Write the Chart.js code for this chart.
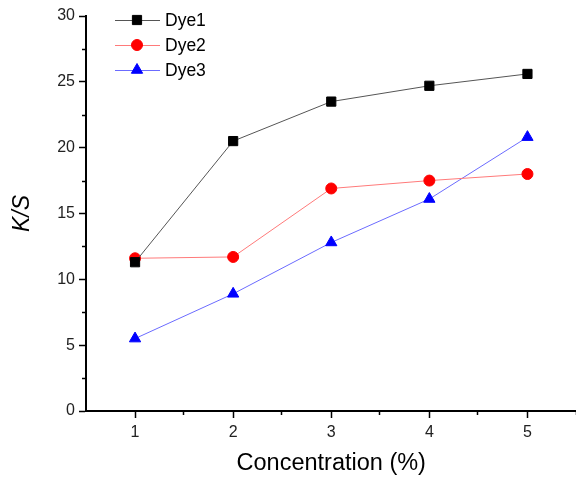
<!DOCTYPE html>
<html>
<head>
<meta charset="utf-8">
<script src="https://cdn.jsdelivr.net/npm/chart.js@4/dist/chart.umd.min.js"></script>
<style>
  html, body { margin: 0; padding: 0; background: #fff; overflow: hidden; }
  #wrap { width: 576px; height: 478px; overflow: hidden; }
</style>
</head>
<body>
<div id="wrap"><canvas id="myChart" width="584" height="478"></canvas></div>
<script>
// datos
var concentration = [1, 2, 3, 4, 5];
var dye1 = [11.3, 20.5, 23.5, 24.7, 25.6];
var dye2 = [11.6, 11.7, 16.9, 17.5, 18.0];
var dye3 = [5.5, 8.9, 12.8, 16.1, 20.8];
var xTicks = [1, 2, 3, 4, 5];
var yTicks = [0, 5, 10, 15, 20, 25, 30];
var xMinor = [1.5, 2.5, 3.5, 4.5, 5.5];
var yMinor = [2.5, 7.5, 12.5, 17.5, 22.5, 27.5];

var font = '"Liberation Sans", Arial, sans-serif';

function toPoints(ys) {
    return concentration.map(function (x, i) { return { x: x, y: ys[i] }; });
}

// ticks menores y leyenda estilo Origin
var extras = {
    id: 'extras',
    afterDraw: function (chart) {
        var ctx = chart.ctx;
        var xs = chart.scales.x, ys = chart.scales.y;
        var area = chart.chartArea;
        ctx.save();
        ctx.strokeStyle = '#000';
        ctx.lineWidth = 1.5;
        xMinor.forEach(function (v) {
            var px = Math.round(xs.getPixelForValue(v)) - 0.5;
            ctx.beginPath(); ctx.moveTo(px, area.bottom); ctx.lineTo(px, area.bottom + 4); ctx.stroke();
        });
        yMinor.forEach(function (v) {
            var py = Math.round(ys.getPixelForValue(v)) + 0.5;
            ctx.beginPath(); ctx.moveTo(area.left, py); ctx.lineTo(area.left - 4, py); ctx.stroke();
        });

        // leyenda
        var rows = [20, 45, 70];
        chart.data.datasets.forEach(function (ds, i) {
            var y = rows[i];
            ctx.strokeStyle = ds.borderColor;
            ctx.lineWidth = 1;
            ctx.beginPath(); ctx.moveTo(115, y + 0.5); ctx.lineTo(160, y + 0.5); ctx.stroke();
            ctx.fillStyle = ds.pointBackgroundColor;
            ctx.strokeStyle = ds.pointBorderColor;
            Chart.helpers.drawPoint(ctx, {
                pointStyle: ds.pointStyle, radius: ds.pointRadius, borderWidth: 1
            }, 137, y);
            ctx.fillStyle = '#000';
            ctx.font = '17.5px ' + font;
            ctx.textBaseline = 'middle';
            ctx.textAlign = 'left';
            ctx.fillText(ds.label, 165, y + 1);
        });
        ctx.restore();
    }
};

var ctx = document.getElementById('myChart').getContext('2d');
var myChart = new Chart(ctx, {
    type: 'line',
    data: {
        datasets: [{
            label: 'Dye1',
            data: toPoints(dye1),
            borderColor: '#555555',
            borderWidth: 1,
            pointStyle: 'rect',
            pointRadius: 6.5,
            pointBackgroundColor: '#000000',
            pointBorderColor: '#000000'
        }, {
            label: 'Dye2',
            data: toPoints(dye2),
            borderColor: '#ff7a7a',
            borderWidth: 1,
            pointStyle: 'circle',
            pointRadius: 5.5,
            pointBackgroundColor: '#ff0000',
            pointBorderColor: '#ff0000'
        }, {
            label: 'Dye3',
            data: toPoints(dye3),
            borderColor: '#6b6bff',
            borderWidth: 1,
            pointStyle: 'triangle',
            pointRadius: 6.5,
            pointBackgroundColor: '#0000ff',
            pointBorderColor: '#0000ff'
        }]
    },
    options: {
        responsive: false,
        animation: false,
        layout: { padding: { left: 0, right: 0, top: 16, bottom: 0 } },
        plugins: { legend: { display: false }, tooltip: { enabled: false } },
        scales: {
            x: {
                type: 'linear',
                min: 0.5,
                max: 5.5,
                afterBuildTicks: function (s) { s.ticks = xTicks.map(function (v) { return { value: v }; }); },
                afterFit: function (s) { s.height = 67; },
                border: { display: true, color: '#000', width: 2 },
                grid: { drawOnChartArea: false, drawTicks: true, tickLength: 7, tickColor: '#000', tickWidth: 1.5 },
                ticks: { color: '#222', font: { family: font, size: 16 }, padding: 5, maxRotation: 0 },
                title: { display: true, text: 'Concentration (%)', color: '#000', font: { family: font, size: 23.5 }, padding: { top: 2, bottom: 0 } }
            },
            y: {
                min: 0,
                max: 30,
                afterBuildTicks: function (s) { s.ticks = yTicks.map(function (v) { return { value: v }; }); },
                afterFit: function (s) { s.width = 86; },
                border: { display: true, color: '#000', width: 2 },
                grid: { drawOnChartArea: false, drawTicks: true, tickLength: 7, tickColor: '#000', tickWidth: 1.5 },
                ticks: { color: '#222', font: { family: font, size: 16 }, padding: 4 },
                title: { display: true, text: 'K/S', color: '#000', font: { family: font, size: 23, style: 'italic' }, padding: { top: 9, bottom: 0 } }
            }
        }
    },
    plugins: [extras]
});
</script>
</body>
</html>
